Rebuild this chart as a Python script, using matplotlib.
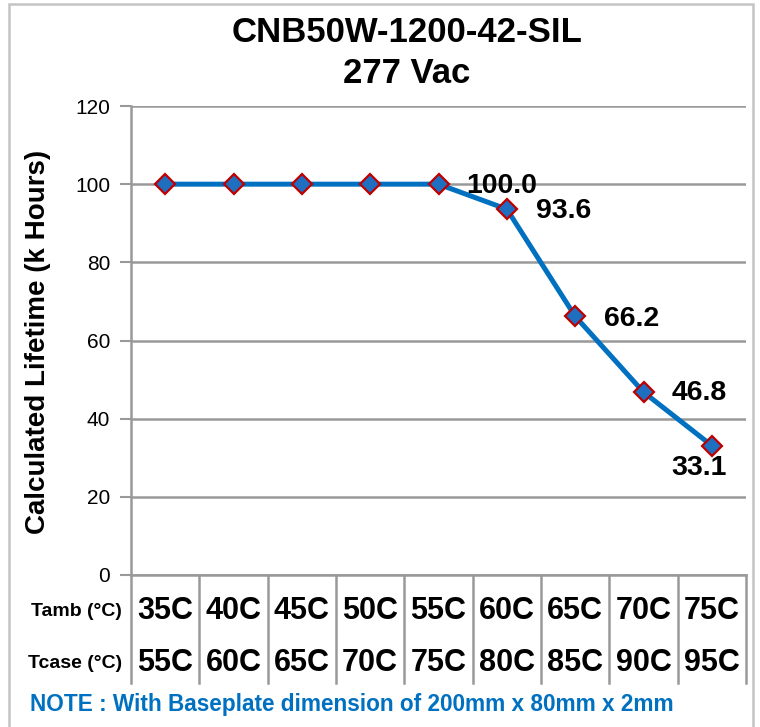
import matplotlib
matplotlib.use("Agg")
import matplotlib.pyplot as plt
from matplotlib.patches import Rectangle
import matplotlib.transforms as mtransforms

plt.rcParams['font.family'] = ['Liberation Sans', 'DejaVu Sans']

tamb = ["35C", "40C", "45C", "50C", "55C", "60C", "65C", "70C", "75C"]
tcase = ["55C", "60C", "65C", "70C", "75C", "80C", "85C", "90C", "95C"]
lifetime = [100.0, 100.0, 100.0, 100.0, 100.0, 93.6, 66.2, 46.8, 33.1]
label_text = ["", "", "", "", "100.0", "93.6", "66.2", "46.8", "33.1"]
yticks = [0, 20, 40, 60, 80, 100, 120]
title = "CNB50W-1200-42-SIL\n277 Vac"
ylabel = "Calculated Lifetime (k Hours)"
row_labels = ["Tamb (°C)", "Tcase (°C)"]
note = "NOTE : With Baseplate dimension of 200mm x 80mm x 2mm"

W, H = 760, 727
fig = plt.figure(figsize=(W / 100, H / 100), dpi=100)
fig.patch.set_facecolor('white')

# outer border
fig.patches.append(Rectangle((9 / W, -0.05), (753 - 9) / W, 1.05 - 4 / H,
                             transform=fig.transFigure, fill=False,
                             edgecolor='#c4c4c4', lw=1.8, zorder=0))

ax_l, ax_r, ax_t, ax_b = 131, 746, 106, 575
ax = fig.add_axes([ax_l / W, 1 - ax_b / H, (ax_r - ax_l) / W, (ax_b - ax_t) / H])
ax.set_xlim(-0.5, len(tamb) - 0.5)
ax.set_ylim(0, 120)
ax.set_yticks(yticks)
ax.set_yticklabels([str(v) for v in yticks], fontsize=15)
ax.tick_params(axis='y', length=8, width=1.5, color='#999999', pad=7)
ax.tick_params(axis='x', length=0, labelbottom=False)
for s in ['top', 'right', 'bottom']:
    ax.spines[s].set_visible(False)
ax.spines['left'].set_color('#999999')
ax.spines['left'].set_linewidth(1.8)
ax.yaxis.grid(True, color='#999999', lw=1.8)
ax.set_axisbelow(True)

x = list(range(len(tamb)))
ax.plot(x, lifetime, color='#0070C0', lw=3.6, marker='D', markersize=10,
        markerfacecolor='#1F6FC1', markeredgecolor='#C00000', markeredgewidth=1.6,
        zorder=3, clip_on=False)

offsets = {4: (28, -2, 'left'), 5: (29, -2, 'left'), 6: (29, -3, 'left'),
           7: (28, -1, 'left'), 8: (-13, -22, 'center')}
for i, (v, t) in enumerate(zip(lifetime, label_text)):
    if not t:
        continue
    dx, dy, ha = offsets[i]
    ax.annotate(t, (i, v), xytext=(dx, dy), textcoords='offset pixels',
                ha=ha, va='center', fontsize=20.5, fontweight='bold', zorder=4)

# table below
trans = mtransforms.blended_transform_factory(ax.transData, ax.transAxes)
h = ax_b - ax_t
tbl_bottom = -(683 - ax_b) / h
row1 = -(611 - ax_b) / h
row2 = -(663 - ax_b) / h
ax.plot([-0.5, len(tamb) - 0.5], [0, 0], transform=trans, color='#999999',
        lw=1.8, clip_on=False)
for b in range(len(tamb) + 1):
    xb = b - 0.5
    ax.plot([xb, xb], [0, tbl_bottom], transform=trans, color='#999999',
            lw=1.8, clip_on=False)
for i in x:
    ax.text(i, row1, tamb[i], transform=trans, ha='center', va='center',
            fontsize=22, fontweight='bold')
    ax.text(i, row2, tcase[i], transform=trans, ha='center', va='center',
            fontsize=22, fontweight='bold')
fig.text(122 / W, 1 - 611 / H, row_labels[0], ha='right', va='center',
         fontsize=14, fontweight='bold')
fig.text(122 / W, 1 - 663 / H, row_labels[1], ha='right', va='center',
         fontsize=14, fontweight='bold')

fig.text(30 / W, 1 - 704 / H, note, ha='left', va='center', fontsize=16.3,
         fontweight='bold', color='#0070C0')

fig.text(407 / W, 1 - 53 / H, title, ha='center', va='center', fontsize=25,
         fontweight='bold', linespacing=1.3)
fig.text(38 / W, 1 - 342 / H, ylabel, ha='center', va='center', rotation=90,
         fontsize=20, fontweight='bold')

fig.savefig('out.png', dpi=100)
